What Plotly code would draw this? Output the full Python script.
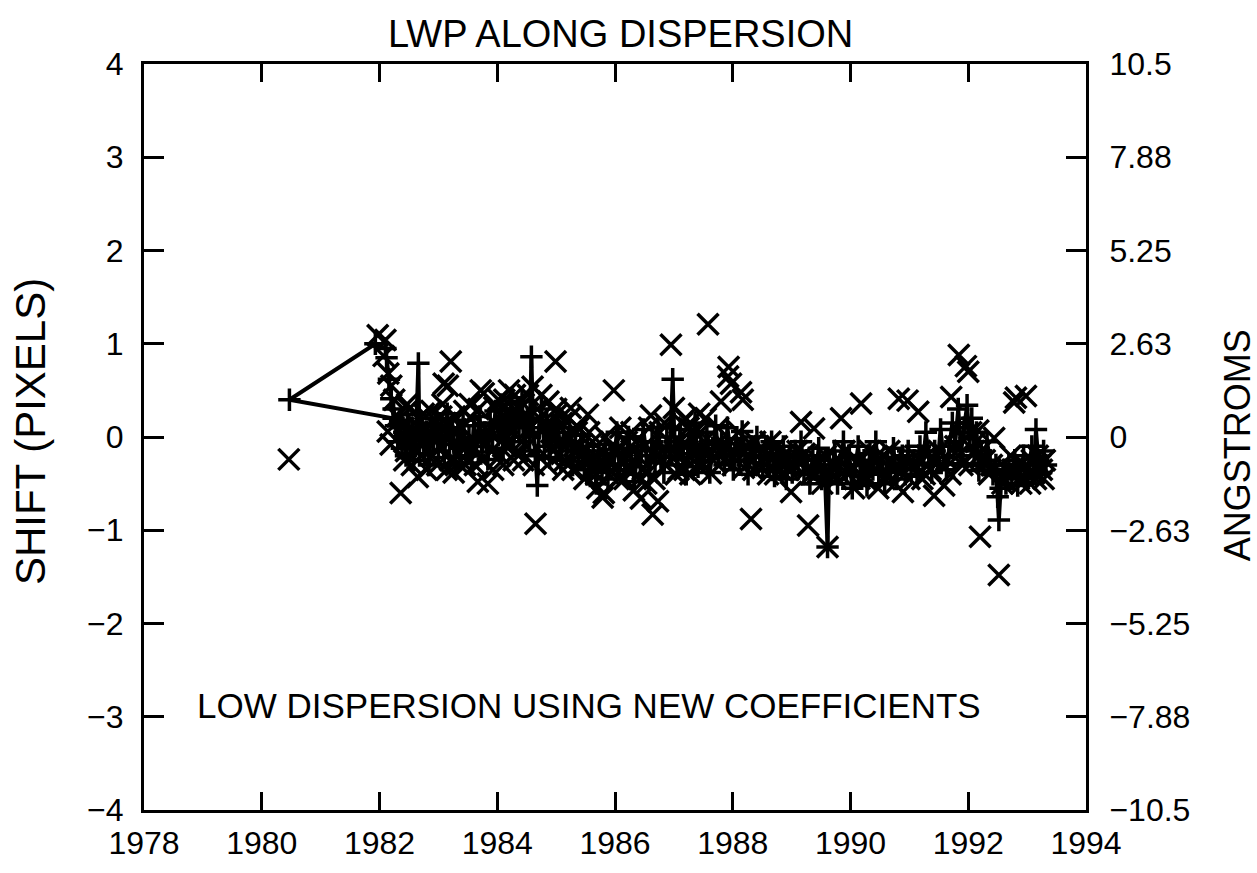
import plotly.graph_objects as go

# Wavelength shift along the dispersion, low-dispersion data, new coefficients.
# "+" series (drawn as a connected trace) and "x" series (markers only).

PLUS_YEAR = [
    1982.10, 1981.93, 1980.47, 1982.24, 1982.12, 1982.16, 1982.20, 1982.24, 1982.28, 1982.31,
    1982.35, 1982.38, 1982.42, 1982.45, 1982.48, 1982.52, 1982.55, 1982.58, 1982.62, 1982.66,
    1982.68, 1982.72, 1982.76, 1982.80, 1982.84, 1982.88, 1982.92, 1982.96, 1983.00, 1983.05,
    1983.10, 1983.15, 1983.19, 1983.24, 1983.28, 1983.33, 1983.38, 1983.42, 1983.47, 1983.52,
    1983.56, 1983.60, 1983.65, 1983.70, 1983.74, 1983.79, 1983.84, 1983.88, 1983.92, 1983.97,
    1984.02, 1984.06, 1984.10, 1984.15, 1984.19, 1984.24, 1984.28, 1984.33, 1984.37, 1984.42,
    1984.46, 1984.51, 1984.55, 1984.58, 1984.61, 1984.65, 1984.68, 1984.71, 1984.75, 1984.80,
    1984.84, 1984.89, 1984.93, 1984.98, 1985.03, 1985.08, 1985.13, 1985.18, 1985.23, 1985.28,
    1985.33, 1985.38, 1985.43, 1985.48, 1985.53, 1985.58, 1985.63, 1985.68, 1985.73, 1985.78,
    1985.83, 1985.88, 1985.93, 1985.98, 1986.03, 1986.08, 1986.13, 1986.18, 1986.23, 1986.28,
    1986.33, 1986.38, 1986.43, 1986.48, 1986.53, 1986.58, 1986.63, 1986.68, 1986.73, 1986.78,
    1986.83, 1986.88, 1986.93, 1986.98, 1987.01, 1987.06, 1987.11, 1987.16, 1987.21, 1987.26,
    1987.31, 1987.36, 1987.41, 1987.46, 1987.51, 1987.56, 1987.61, 1987.66, 1987.71, 1987.76,
    1987.81, 1987.86, 1987.91, 1987.96, 1988.01, 1988.06, 1988.11, 1988.16, 1988.21, 1988.26,
    1988.31, 1988.36, 1988.41, 1988.46, 1988.51, 1988.56, 1988.61, 1988.66, 1988.71, 1988.76,
    1988.81, 1988.86, 1988.91, 1988.96, 1989.01, 1989.06, 1989.11, 1989.16, 1989.21, 1989.26,
    1989.31, 1989.36, 1989.41, 1989.46, 1989.51, 1989.56, 1989.61, 1989.64, 1989.68, 1989.73,
    1989.78, 1989.83, 1989.88, 1989.93, 1989.98, 1990.03, 1990.08, 1990.13, 1990.18, 1990.23,
    1990.28, 1990.33, 1990.38, 1990.43, 1990.48, 1990.53, 1990.58, 1990.63, 1990.68, 1990.73,
    1990.78, 1990.83, 1990.88, 1990.93, 1990.98, 1991.03, 1991.08, 1991.13, 1991.18, 1991.23,
    1991.28, 1991.33, 1991.38, 1991.43, 1991.48, 1991.53, 1991.58, 1991.63, 1991.68, 1991.73,
    1991.78, 1991.83, 1991.88, 1991.93, 1991.98, 1992.02, 1992.06, 1992.10, 1992.14, 1992.18,
    1992.22, 1992.27, 1992.32, 1992.37, 1992.42, 1992.47, 1992.50, 1992.52, 1992.55, 1992.59,
    1992.64, 1992.69, 1992.74, 1992.79, 1992.84, 1992.89, 1992.94, 1992.99, 1993.04, 1993.08,
    1993.12, 1993.15, 1993.19, 1993.24, 1993.28, 1993.32, 1990.85, 1992.25, 1992.95,
]
PLUS_SHIFT = [
    0.95, 1.00, 0.40, 0.20, 0.85, 0.62, 0.41, 0.30, 0.12, -0.05,
    0.18, -0.12, 0.05, -0.20, 0.24, -0.08, 0.10, -0.25, 0.02, 0.79,
    -0.10, 0.15, -0.18, 0.06, -0.30, 0.12, -0.05, 0.20, -0.15, 0.08,
    -0.22, 0.25, -0.08, 0.10, -0.30, 0.04, -0.12, 0.18, -0.20, 0.00,
    -0.28, 0.12, -0.10, 0.22, -0.16, 0.05, -0.24, 0.15, -0.02, 0.28,
    0.02, 0.35, -0.12, 0.30, 0.05, 0.42, -0.05, 0.25, 0.10, 0.38,
    -0.15, 0.20, 0.00, 0.86, 0.05, -0.20, -0.52, 0.10, 0.30, -0.10,
    0.18, -0.22, 0.12, -0.05, 0.15, -0.25, 0.05, -0.15, 0.10, -0.30,
    -0.05, -0.22, 0.02, -0.35, -0.10, -0.42, -0.15, -0.50, -0.20, -0.38,
    -0.08, -0.45, -0.18, -0.30, 0.05, -0.35, -0.12, -0.40, 0.00, -0.25,
    -0.48, -0.10, -0.32, 0.08, -0.20, -0.40, -0.05, -0.28, 0.10, -0.22,
    -0.38, 0.00, -0.15, 0.62, -0.05, -0.30, 0.08, -0.22, -0.40, 0.02,
    -0.18, 0.15, -0.32, -0.08, -0.25, 0.05, -0.38, -0.12, 0.12, -0.20,
    -0.05, -0.30, 0.10, -0.15, -0.35, -0.02, -0.25, 0.06, -0.18, -0.40,
    -0.10, -0.28, 0.00, -0.20, -0.35, -0.12, -0.30, -0.05, -0.42, -0.18,
    -0.32, -0.10, -0.45, -0.22, -0.38, -0.15, -0.30, -0.05, -0.40, -0.25,
    -0.50, -0.20, -0.35, -0.12, -0.45, -0.30, -1.18, -0.25, -0.40, -0.15,
    -0.50, -0.28, -0.05, -0.38, -0.20, -0.55, -0.30, -0.10, -0.42, -0.25,
    -0.52, -0.18, -0.35, -0.05, -0.40, -0.28, -0.50, -0.22, -0.38, -0.12,
    -0.45, -0.30, -0.20, -0.40, -0.15, -0.35, -0.25, -0.42, -0.10, -0.30,
    0.05, -0.20, -0.38, -0.15, -0.28, 0.08, -0.22, -0.35, -0.10, 0.15,
    -0.05, 0.30, -0.15, 0.10, 0.34, -0.02, 0.20, -0.20, 0.05, -0.36,
    -0.15, -0.30, -0.05, -0.25, -0.40, -0.30, -0.64, -0.89, -0.55, -0.38,
    -0.50, -0.30, -0.45, -0.25, -0.52, -0.35, -0.20, -0.45, -0.30, -0.10,
    -0.40, 0.08, -0.25, -0.38, -0.15, -0.30, -0.28, -0.30, -0.42,
]

CROSS_YEAR = [
    1980.46, 1981.97, 1982.10, 1982.07, 1982.15, 1982.20, 1982.14, 1982.19, 1982.25, 1982.30,
    1982.36, 1982.40, 1982.45, 1982.50, 1982.55, 1982.60, 1982.65, 1982.70, 1982.75, 1982.80,
    1982.85, 1982.90, 1982.95, 1983.02, 1983.09, 1983.12, 1983.16, 1983.20, 1983.21, 1983.26,
    1983.30, 1983.36, 1983.44, 1983.50, 1983.55, 1983.62, 1983.67, 1983.72, 1983.77, 1983.80,
    1983.84, 1983.90, 1983.95, 1984.00, 1984.05, 1984.12, 1984.18, 1984.22, 1984.30, 1984.35,
    1984.40, 1984.45, 1984.50, 1984.60, 1984.65, 1984.72, 1984.78, 1984.87, 1984.92, 1984.99,
    1985.05, 1985.10, 1985.15, 1985.25, 1985.30, 1985.35, 1985.40, 1985.45, 1985.54, 1985.60,
    1985.66, 1985.70, 1985.79, 1985.81, 1985.86, 1985.90, 1985.98, 1986.00, 1986.06, 1986.12,
    1986.20, 1986.26, 1986.32, 1986.38, 1986.44, 1986.50, 1986.56, 1986.61, 1986.64, 1986.73,
    1986.80, 1986.86, 1986.95, 1987.00, 1987.05, 1987.10, 1987.18, 1987.25, 1987.32, 1987.40,
    1987.45, 1987.58, 1987.63, 1987.70, 1987.80, 1987.85, 1987.92, 1987.93, 1987.97, 1988.05,
    1988.14, 1988.17, 1988.19, 1988.25, 1988.31, 1988.38, 1988.45, 1988.52, 1988.60, 1988.68,
    1988.75, 1988.82, 1988.90, 1988.99, 1989.05, 1989.16, 1989.22, 1989.28, 1989.33, 1989.38,
    1989.45, 1989.52, 1989.61, 1989.70, 1989.76, 1989.84, 1989.90, 1989.96, 1990.06, 1990.12,
    1990.18, 1990.25, 1990.32, 1990.40, 1990.47, 1990.55, 1990.62, 1990.70, 1990.76, 1990.82,
    1990.89, 1990.97, 1991.05, 1991.15, 1991.22, 1991.30, 1991.36, 1991.42, 1991.50, 1991.59,
    1991.65, 1991.71, 1991.78, 1991.84, 1991.90, 1991.96, 1992.00, 1992.05, 1992.10, 1992.17,
    1992.20, 1992.28, 1992.35, 1992.44, 1992.52, 1992.58, 1992.66, 1992.72, 1992.78, 1992.81,
    1992.86, 1992.92, 1992.95, 1992.98, 1993.05, 1993.12, 1993.18, 1993.25, 1993.30,
    1982.42, 1982.58, 1982.72, 1982.88, 1983.05, 1983.14, 1983.33, 1983.40, 1983.58, 1983.68,
    1983.86, 1984.08, 1984.15, 1984.26, 1984.33, 1984.42, 1984.48, 1984.55, 1984.68, 1984.82,
    1984.95, 1985.02, 1985.20, 1985.28, 1985.50, 1985.62, 1985.75, 1985.94, 1986.03, 1986.16,
    1986.23, 1986.35, 1986.47, 1986.53, 1986.70, 1986.76, 1986.90, 1987.08, 1987.14, 1987.22,
    1987.36, 1987.50, 1987.54, 1987.67, 1987.75, 1987.88, 1988.00, 1988.10, 1988.22, 1988.35,
    1988.42, 1988.56, 1988.64, 1988.72, 1988.86, 1988.95, 1989.10, 1989.25, 1989.42, 1989.58,
    1989.66, 1989.80, 1990.00, 1990.15, 1990.30, 1990.45, 1990.58, 1990.66, 1990.86, 1991.00,
    1991.10, 1991.26, 1991.40, 1991.55, 1991.70, 1991.82, 1992.02, 1992.13, 1992.40, 1992.62,
    1992.75, 1992.90, 1993.00, 1993.08, 1993.15, 1993.22, 1993.28,
    1982.47, 1982.63, 1982.78, 1982.98, 1983.07, 1983.18, 1983.28, 1983.46, 1983.53, 1983.75,
    1983.93, 1984.02, 1984.10, 1984.20, 1984.28, 1984.38, 1984.44, 1984.52, 1984.62, 1984.75,
    1984.85, 1985.00, 1985.12, 1985.22, 1985.38, 1985.48, 1985.56, 1985.68, 1985.84, 1986.09,
    1986.28, 1986.41, 1986.58, 1986.67, 1986.84, 1987.03, 1987.20, 1987.28, 1987.43, 1987.60,
]
CROSS_SHIFT = [
    -0.24, 1.09, 1.04, 0.87, 0.68, 0.55, 0.06, -0.08, 0.40, 0.22,
    -0.60, 0.10, -0.15, 0.30, -0.30, 0.15, -0.43, -0.05, 0.25, -0.35,
    0.05, -0.20, 0.18, -0.10, 0.57, 0.15, 0.55, -0.25, 0.81, -0.38,
    0.08, -0.18, 0.28, -0.05, 0.20, -0.30, -0.48, 0.50, 0.47, 0.10,
    -0.50, -0.15, 0.32, 0.12, -0.20, 0.40, -0.05, 0.25, 0.45, -0.15,
    0.15, 0.35, -0.10, 0.54, -0.93, 0.20, -0.18, 0.38, 0.05, 0.81,
    -0.05, 0.15, -0.25, 0.31, -0.10, 0.05, -0.30, -0.15, 0.24, -0.35,
    -0.20, -0.55, -0.65, -0.60, -0.25, -0.40, 0.50, -0.15, -0.45, -0.25,
    -0.05, -0.35, -0.57, -0.20, -0.66, -0.10, -0.38, 0.23, -0.83, -0.69,
    -0.15, -0.30, 0.99, 0.31, -0.20, -0.05, -0.35, 0.10, -0.15, -0.30,
    0.05, 1.21, -0.39, -0.10, 0.38, -0.25, 0.65, 0.75, 0.57, -0.10,
    0.48, 0.40, -0.33, -0.20, -0.88, -0.05, -0.30, -0.15, -0.40, -0.22,
    -0.10, -0.35, -0.25, -0.59, -0.30, 0.16, -0.18, -0.95, -0.40, 0.09,
    -0.25, -0.50, -1.18, -0.30, -0.45, 0.20, -0.15, -0.40, -0.55, -0.25,
    0.36, -0.45, -0.15, -0.35, -0.55, -0.20, -0.40, -0.28, -0.50, 0.41,
    -0.59, 0.39, -0.30, 0.27, -0.45, -0.20, -0.35, -0.63, -0.15, -0.52,
    -0.25, 0.43, -0.10, 0.88, -0.30, 0.76, 0.70, 0.05, -0.15, 0.07,
    -1.07, -0.25, -0.40, -0.01, -1.48, -0.50, -0.35, -0.20, 0.37, 0.42,
    -0.45, -0.28, -0.32, 0.44, -0.50, -0.39, -0.20, -0.35, -0.25,
    -0.25, 0.05, -0.20, 0.28, 0.22, -0.35, -0.28, 0.10, -0.12, 0.30,
    0.05, 0.22, -0.10, 0.05, 0.28, -0.05, 0.25, 0.10, 0.30, 0.10,
    -0.15, 0.25, 0.02, -0.35, -0.25, -0.05, -0.30, -0.10, -0.30, -0.45,
    -0.20, -0.05, -0.35, -0.50, -0.20, 0.05, -0.15, -0.35, 0.15, -0.25,
    0.05, -0.30, 0.20, -0.25, 0.10, -0.10, -0.30, 0.05, -0.10, -0.35,
    -0.15, -0.30, -0.05, -0.40, -0.20, -0.35, -0.15, -0.35, -0.40, -0.20,
    -0.40, -0.25, -0.35, -0.45, -0.30, -0.20, -0.45, -0.15, -0.35, -0.45,
    -0.20, -0.40, -0.25, -0.30, -0.40, -0.20, -0.30, -0.05, -0.30, -0.45,
    -0.35, -0.50, -0.40, -0.25, -0.45, -0.30, -0.45,
    0.35, -0.15, 0.10, -0.30, 0.35, 0.00, 0.22, -0.30, 0.35, -0.25,
    -0.35, 0.40, -0.30, 0.50, -0.25, 0.30, -0.25, 0.45, -0.30, 0.45,
    -0.30, 0.30, -0.35, 0.20, 0.10, -0.45, 0.05, -0.40, 0.00, 0.10,
    0.05, -0.45, 0.10, -0.45, 0.15, -0.40, 0.20, -0.40, 0.25, -0.15,
]

# Axis ticks
YEAR_TICKS = list(range(1978, 1995, 2))
PIXEL_TICKS = [-4, -3, -2, -1, 0, 1, 2, 3, 4]
PIXEL_LABELS = ["\u22124", "\u22123", "\u22122", "\u22121", "0", "1", "2", "3", "4"]
ANGSTROM_TICKS = [-10.5, -7.88, -5.25, -2.63, 0, 2.63, 5.25, 7.88, 10.5]
ANGSTROM_LABELS = ["\u221210.5", "\u22127.88", "\u22125.25", "\u22122.63", "0",
                   "2.63", "5.25", "7.88", "10.5"]
ANGSTROM_PER_PIXEL = 10.5 / 4

FONT = "Liberation Sans, Arial, sans-serif"
INK = "black"

fig = go.Figure()

fig.add_trace(go.Scatter(
    x=PLUS_YEAR, y=PLUS_SHIFT, mode="lines+markers",
    line=dict(color=INK, width=4),
    marker=dict(symbol="cross-thin", size=16, color=INK, line=dict(color=INK, width=3.5)),
    hoverinfo="skip", showlegend=False,
))
fig.add_trace(go.Scatter(
    x=CROSS_YEAR, y=CROSS_SHIFT, mode="markers",
    marker=dict(symbol="x-thin", size=21, color=INK, line=dict(color=INK, width=3.5)),
    hoverinfo="skip", showlegend=False,
))
# Same points expressed in Angstroms so the right-hand axis has its own subplot
fig.add_trace(go.Scatter(
    x=CROSS_YEAR, y=[v * ANGSTROM_PER_PIXEL for v in CROSS_SHIFT],
    yaxis="y2", mode="markers", marker=dict(opacity=0),
    hoverinfo="skip", showlegend=False,
))

axis_common = dict(
    ticks="inside", tickwidth=3, tickcolor=INK,
    showline=True, linecolor=INK, linewidth=3,
    showgrid=False, zeroline=False,
    tickfont=dict(family=FONT, size=32, color=INK),
)

fig.update_layout(
    width=1257, height=873, autosize=False,
    margin=dict(l=144, r=171, t=64, b=53),
    paper_bgcolor="white", plot_bgcolor="white",
    showlegend=False,
    xaxis=dict(range=[1978, 1994], tickvals=YEAR_TICKS, ticklen=18,
               mirror="ticks", ticklabelstandoff=3, **axis_common),
    yaxis=dict(range=[-4, 4], tickvals=PIXEL_TICKS, ticktext=PIXEL_LABELS,
               ticklen=20, ticklabelstandoff=11, **axis_common),
    yaxis2=dict(range=[-10.5, 10.5], tickvals=ANGSTROM_TICKS, ticktext=ANGSTROM_LABELS,
                overlaying="y", side="right", ticklen=20, ticklabelstandoff=14,
                **axis_common),
    annotations=[
        dict(text="LWP ALONG DISPERSION", xref="paper", yref="paper",
             x=0.506, y=1.0397, xanchor="center", yanchor="middle", showarrow=False,
             font=dict(family=FONT, size=38, color=INK)),
        dict(text="LOW DISPERSION USING NEW COEFFICIENTS", xref="paper", yref="paper",
             x=0.4724, y=0.140, xanchor="center", yanchor="middle", showarrow=False,
             font=dict(family=FONT, size=35, color=INK)),
        dict(text="SHIFT (PIXELS)", xref="paper", yref="paper",
             x=-0.1210, y=0.5066, xanchor="center", yanchor="middle", showarrow=False,
             textangle=-90, font=dict(family=FONT, size=42, color=INK)),
        dict(text="ANGSTROMS", xref="paper", yref="paper",
             x=1.1603, y=0.489, xanchor="center", yanchor="middle", showarrow=False,
             textangle=-90, font=dict(family=FONT, size=36, color=INK)),
    ],
)

fig.write_html("out.html")
